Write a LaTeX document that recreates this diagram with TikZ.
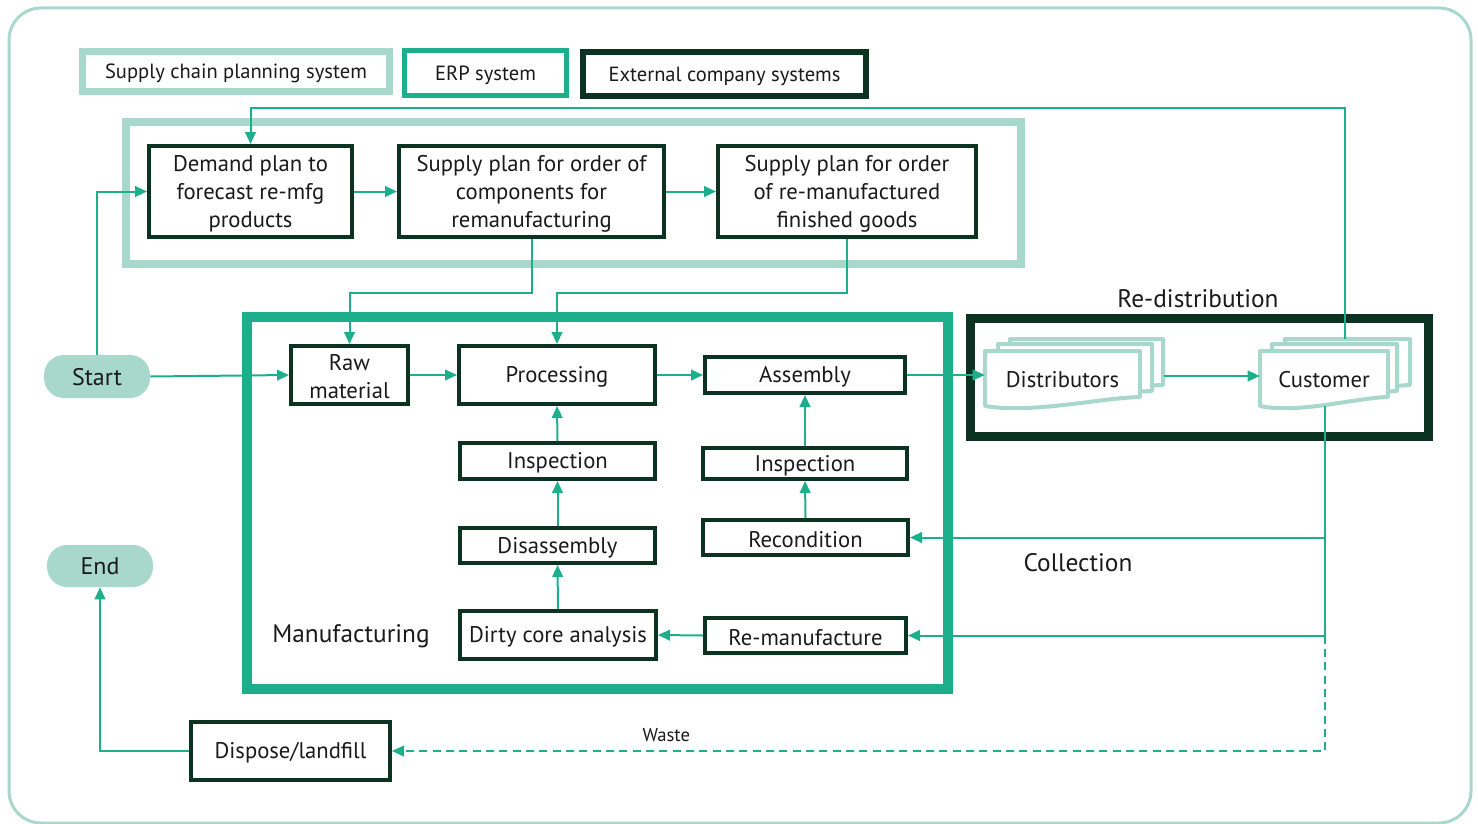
\documentclass[tikz,border=0pt]{standalone}
\usepackage{fontspec}
\setmainfont{PT Sans}
\usetikzlibrary{arrows.meta}
\definecolor{lg}{HTML}{A8D8CC}
\definecolor{tl}{HTML}{1DAF8C}
\definecolor{dk}{HTML}{0C3221}
\definecolor{tx}{HTML}{1A1A1A}
\newcommand\bx[7][box]{\node[#1,minimum width={(#5-#3)*0.75pt},minimum height={(#6-#4)*0.75pt}] (#2) at ({(#3+#5)/2},{(#4+#6)/2}) {};
  \node[#1 text] (#2-text) at ([yshift=-1.5pt]#2.center) {#7};}
\newcommand\docpage[4]{\draw[lg,line width=3pt,fill=white,line join=round] (#1,#2) -- (#3,#2) -- (#3,#4) .. controls ({#3-0.26*(#3-#1)},{#4+1}) and ({#1+0.3*(#3-#1)},{#4+17}) .. (#1,{#4+9}) -- cycle;}
\begin{document}
\begin{tikzpicture}[x=0.75pt,y=-0.75pt,
  box/.style={draw=dk,line width=3pt,fill=white,inner sep=0pt},
  box text/.style={inner sep=0pt,align=center,text=tx,font=\fontsize{17}{21}\selectfont},
  txt/.style={draw=none,fill=none,inner sep=0pt},
  txt text/.style={inner sep=0pt,align=center,text=tx,yshift=-1.5pt,font=\fontsize{17}{21}\selectfont},
  pill/.style={fill=lg,draw=none,rounded corners=15pt,inner sep=0pt},
  pill text/.style={inner sep=0pt,text=tx,yshift=1pt,font=\fontsize{18}{21}\selectfont},
  leg/.style={fill=white,inner sep=0pt},
  leg text/.style={inner sep=0pt,text=tx,font=\fontsize{15.4}{18}\selectfont},
  lbl/.style={text=tx,inner sep=0pt,font=\fontsize{19}{22}\selectfont},
  conn/.style={draw=tl,line width=1.5pt,-{Triangle[length=9pt,width=8pt]}},
  wire/.style={draw=tl,line width=1.5pt}]
\useasboundingbox (0,0) rectangle (1478,824);
% outer frame
\draw[lg,line width=2.25pt,rounded corners=24pt] (9,8) rectangle (1471,823);
% legend
\bx[leg]{legscp}{83}{52}{389}{91}{Supply chain planning system}
\draw[lg,line width=5.25pt] (legscp.south west) rectangle (legscp.north east);
\bx[leg]{legerp}{405}{51}{566}{95}{ERP system}
\draw[tl,line width=3.75pt] (legerp.south west) rectangle (legerp.north east);
\bx[leg]{legext}{583}{52}{866}{96}{External company systems}
\draw[dk,line width=4.5pt] (legext.south west) rectangle (legext.north east);
% regions
\draw[lg,line width=6pt] (126,122) rectangle (1021,264);
\draw[tl,line width=7.5pt] (247,317) rectangle (948,689);
\draw[dk,line width=6.75pt] (970,318) rectangle (1428,436);
% planning nodes
\bx{demand}{149}{146}{352}{237}{Demand plan to\\forecast re-mfg\\products}
\bx{supc}{399}{146}{664}{237}{Supply plan for order of\\components for\\remanufacturing}
\bx{supr}{718}{146}{976}{237}{Supply plan for order\\of re-manufactured\\finished goods}
% manufacturing nodes
\bx{raw}{291}{346}{408}{404}{Raw\\material}
\bx{proc}{459}{346}{655}{404}{Processing}
\bx{asm}{705}{357}{905}{393}{Assembly}
\bx{insl}{460}{443}{655}{479}{Inspection}
\bx{insr}{703}{448}{907}{479}{Inspection}
\bx{disa}{460}{528}{655}{563}{Disassembly}
\bx{recon}{703}{520}{908}{555}{Recondition}
\bx{dirty}{460}{611}{656}{659}{Dirty core analysis}
\bx{reman}{705}{618}{906}{653}{Re-manufacture}
\bx{dispose}{191}{722}{390}{780}{Dispose/landfill}
% start / end
\bx[pill]{start}{44}{355}{150}{398}{Start}
\bx[pill]{endn}{47}{545}{153}{587}{End}
% document stacks
\docpage{1010}{339}{1163}{385}
\docpage{998}{344}{1152}{391}
\docpage{985}{351}{1140}{397}
\bx[txt]{dist}{985}{351}{1140}{401}{Distributors}
\docpage{1285}{339}{1410}{385}
\docpage{1272}{344}{1397}{391}
\docpage{1260}{351}{1388}{397}
\bx[txt]{cust}{1260}{351}{1388}{401}{Customer}
% labels
\node[lbl] (lblredist) at (1198,299) {Re-distribution};
\node[lbl] (lblmfg) at (351,636) {Manufacturing};
\node[lbl] (lblcoll) at (1078,563) {Collection};
% coordinates
\coordinate (custtop) at (1345,339);
\coordinate (custbot) at (1325,406);
\coordinate (topy) at (0,108);
% connectors
\draw[conn] (start.north) |- (demand.west);
\draw[conn] (start.east) -- (raw.west);
\draw[conn] (demand.east) -- (supc.west);
\draw[conn] (supc.east) -- (supr.west);
\draw[conn] (supc.south) -- ++(0,54) -| (raw.north);
\draw[conn] (supr.south) -- ++(0,54) -| (proc.north);
\draw[conn] (raw.east) -- (proc.west);
\draw[conn] (proc.east) -- (asm.west);
\draw[conn] (asm.east) -- (asm.east -| dist.west);
\draw[conn] ([xshift=18pt]dist.east) -- (cust.west);
\draw[conn] (custtop) -- (custtop |- topy) -| (demand.north);
\draw[conn] (custbot) |- (recon.east);
\draw[conn] (custbot) |- (reman.east);
\draw[wire,dashed,dash pattern=on 6pt off 4pt,-{Triangle[length=9pt,width=8pt]}] (reman.east -| custbot) |- (dispose.east) node[pos=0.853,above=3pt,text=tx,font=\fontsize{14}{16}\selectfont] (waste) {Waste};
\draw[conn] (recon.north) -- (insr.south);
\draw[conn] (insr.north) -- (asm.south);
\draw[conn] (reman.west) -- (dirty.west -| dirty.east);
\draw[conn] (dirty.north) -- (disa.south);
\draw[conn] (disa.north) -- (insl.south);
\draw[conn] (insl.north) -- (proc.south);
\draw[conn] (dispose.west) -| (endn.south);
\end{tikzpicture}
\end{document}
